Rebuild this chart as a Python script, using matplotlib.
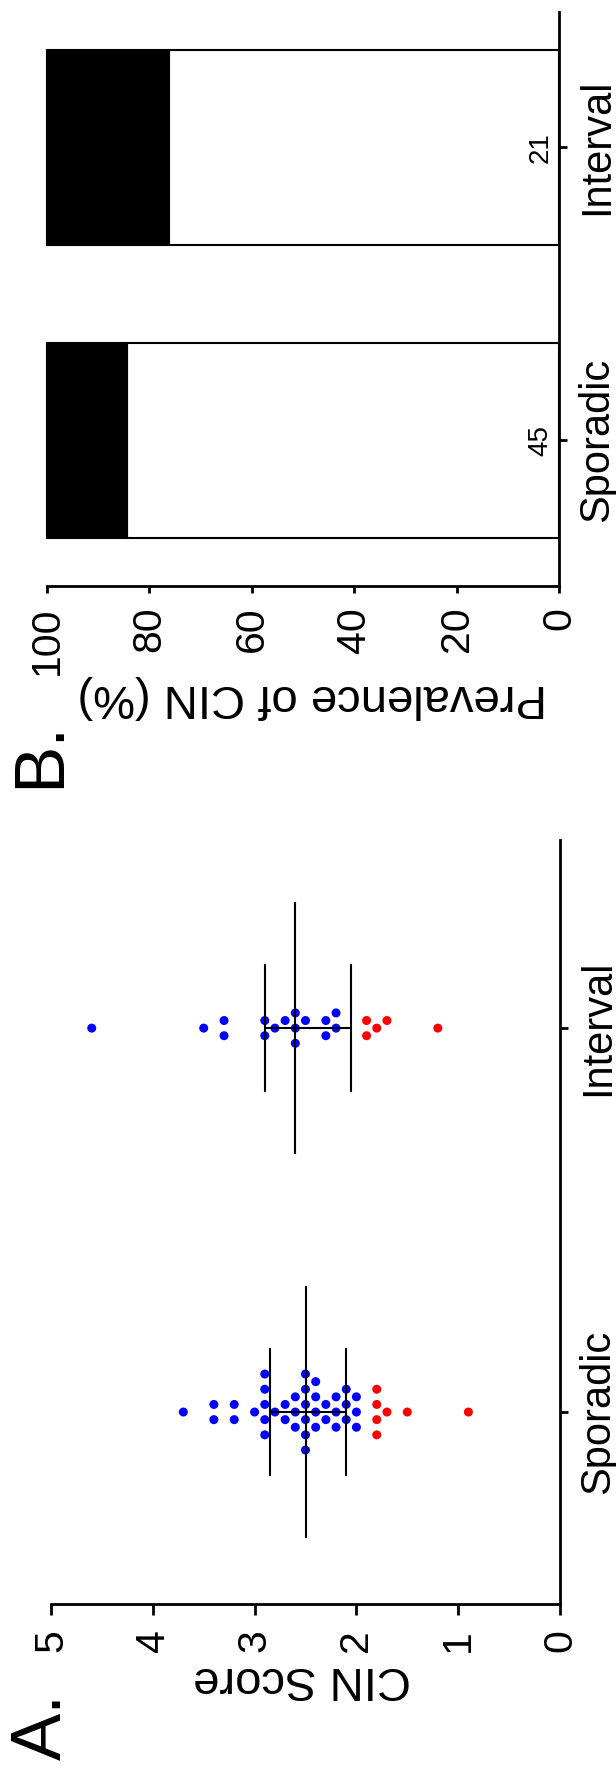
import numpy as np
import matplotlib
matplotlib.use('Agg')
import matplotlib.pyplot as plt

plt.rcParams['font.family'] = ['Liberation Sans', 'DejaVu Sans']

# ---------------- data ----------------
categories = ['Sporadic', 'Interval']
sporadic_blue = [3.7, 3.4, 3.4, 3.2, 3.2, 3.0, 2.9, 2.9, 2.9, 2.9, 2.9, 2.8, 2.7, 2.7,
                 2.6, 2.6, 2.6, 2.5, 2.5, 2.5, 2.5, 2.5, 2.5, 2.4, 2.4, 2.4, 2.4,
                 2.3, 2.3, 2.2, 2.2, 2.2, 2.1, 2.1, 2.1, 2.0, 2.0, 2.0]
sporadic_red = [1.8, 1.8, 1.8, 1.8, 1.7, 1.5, 0.9]
interval_blue = [4.6, 3.5, 3.3, 3.3, 2.9, 2.9, 2.8, 2.7, 2.6, 2.6, 2.6, 2.5,
                 2.3, 2.3, 2.2, 2.2]
interval_red = [1.9, 1.9, 1.8, 1.7, 1.2]
score_ticks = [0, 1, 2, 3, 4, 5]
pct_ticks = [0, 20, 40, 60, 80, 100]

blue_groups = [sporadic_blue, interval_blue]
red_groups = [sporadic_red, interval_red]

# ---------------- figure layout ----------------
W, H = 616, 1771
fig = plt.figure(figsize=(W / 100, H / 100), dpi=100)


def px_axes(x0, x1, ytop, ybot):
    return fig.add_axes([x0 / W, 1 - ybot / H, (x1 - x0) / W, (ybot - ytop) / H])


BLUE = '#0000FF'
RED = '#FF0000'
LW_AX = 2.0


def style_axes(ax, xt_len, yt_len):
    ax.spines['top'].set_visible(False)
    ax.spines['left'].set_visible(False)
    ax.spines['bottom'].set_linewidth(LW_AX)
    ax.spines['right'].set_linewidth(LW_AX)
    ax.yaxis.tick_right()
    ax.tick_params(axis='x', length=xt_len, width=LW_AX, pad=10, labelsize=29.5)
    ax.tick_params(axis='y', length=yt_len, width=LW_AX, pad=7, labelsize=30,
                   left=False, right=True)


def swarm_slots(values, px_per_value, step_px, min_dist_px):
    vals = np.round(np.asarray(values, float), 6)
    slots = np.zeros(len(vals), int)
    placed = []
    for v in sorted(set(vals.tolist()), reverse=True):
        idx = np.where(vals == v)[0]
        n = len(idx)

        def free(s):
            for pv, ps in placed:
                if np.hypot((v - pv) * px_per_value, (s - ps) * step_px) < min_dist_px:
                    return False
            return True

        natural = 0 if n % 2 else 1
        best = None
        for parity in (0, 1):
            cands = sorted([s for s in range(-80, 81) if abs(s) % 2 == parity],
                           key=lambda s: (abs(s), s))
            chosen = [s for s in cands if free(s)][:n]
            score = (max(abs(c) for c in chosen), parity != natural)
            if best is None or score < best[0]:
                best = (score, chosen)
        chosen = sorted(best[1])
        for i, s in zip(idx, chosen):
            slots[i] = s
            placed.append((v, s))
    return slots


# ---------------- Panel A: CIN score scatter ----------------
axA = px_axes(51, 560, 840, 1604)
axA.set_xlim(5, 0)
axA.set_ylim(-0.5, 1.49)
style_axes(axA, 8, 6)

pos = np.arange(len(categories))
px_per_val = (560 - 51) / 5.0
px_per_cat = (1604 - 840) / 1.99
step_px = 7.6
for k, cat in enumerate(pos):
    vals = list(blue_groups[k]) + list(red_groups[k])
    cols = [BLUE] * len(blue_groups[k]) + [RED] * len(red_groups[k])
    slots = swarm_slots(vals, px_per_val, step_px, 11.5)
    yy = cat - slots * (step_px / px_per_cat)
    axA.scatter(vals, yy, s=42, c=cols, linewidths=0, zorder=3, clip_on=False)
    q1, med, q3 = np.percentile(vals, [25, 50, 75], method='weibull')
    axA.vlines(med, cat - 0.328, cat + 0.328, colors='black', lw=1.5, zorder=4)
    axA.vlines([q1, q3], cat - 0.167, cat + 0.167, colors='black', lw=1.5, zorder=4)
    axA.hlines(cat, q1, q3, colors='black', lw=1.5, zorder=4)

axA.set_xticks(score_ticks)
axA.set_xticklabels([str(t) for t in score_ticks], rotation=90)
axA.set_yticks(pos)
axA.set_yticklabels(categories, rotation=90, va='center')
axA.set_xlabel('CIN Score', fontsize=34, rotation=180)
axA.xaxis.set_label_coords((302 - 51) / (560 - 51), (1604 - 1679) / (1604 - 840))
axA.xaxis.label.set_va('center')
axA.xaxis.label.set_ha('center')

# ---------------- Panel B: prevalence bars ----------------
axB = px_axes(47, 559, 12, 586)
axB.set_xlim(100, 0)
axB.set_ylim(-0.498, 1.461)
style_axes(axB, 5, 6)

n_total = np.array([len(b) + len(r) for b, r in zip(blue_groups, red_groups)])
n_blue = np.array([len(b) for b in blue_groups])
prevalence = 100.0 * n_blue / n_total

axB.barh(pos, prevalence, left=0, height=0.666, color='white', edgecolor='black',
         linewidth=1.5, clip_on=False, zorder=2)
axB.barh(pos, 100 - prevalence, left=prevalence, height=0.666, color='black',
         edgecolor='black', linewidth=1.5, clip_on=False, zorder=2)
for cat, n in zip(pos, n_total):
    axB.text(3.6, cat, str(n), rotation=90, ha='center', va='center', fontsize=20,
             zorder=3)

axB.set_xticks(pct_ticks)
axB.set_xticklabels([str(t) for t in pct_ticks], rotation=90)
axB.set_yticks(pos)
axB.set_yticklabels(categories, rotation=90, va='center')
axB.set_xlabel('Prevalence of CIN (%)', fontsize=34, rotation=180)
axB.xaxis.set_label_coords((312 - 47) / (559 - 47), (586 - 697) / (586 - 12))
axB.xaxis.label.set_va('center')
axB.xaxis.label.set_ha('center')

# ---------------- panel letters ----------------
fig.text(42.5 / W, 1 - 1727 / H, 'A.', rotation=90, fontsize=51, ha='center', va='center')
fig.text(41.5 / W, 1 - 754 / H, 'B.', rotation=90, fontsize=51, ha='center', va='center')

fig.savefig('out.png', dpi=100)
